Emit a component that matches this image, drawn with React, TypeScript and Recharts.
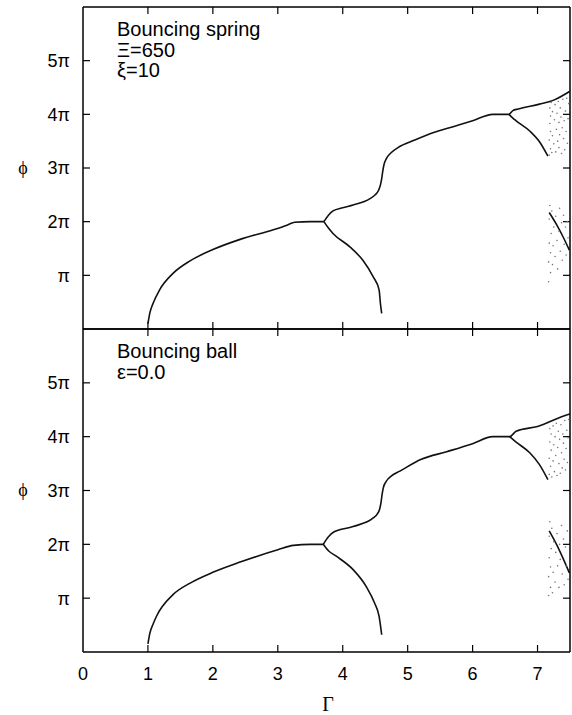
import { ComposedChart, Line, ReferenceLine, Scatter, XAxis, YAxis } from 'recharts';

const xTicks = [0, 1, 2, 3, 4, 5, 6, 7];
const yTicks = [1, 2, 3, 4, 5];
const yTickLabels: Record<number, string> = { 1: 'π', 2: '2π', 3: '3π', 4: '4π', 5: '5π' };
const xMax = 7.5;
const yMax = 6;

// Bouncing spring, [Γ, ϕ/π]
const springMain = [[1.0, 0.1], [1.03, 0.3], [1.08, 0.48], [1.18, 0.73], [1.39, 1.04], [1.65, 1.27], [2.0, 1.48], [2.42, 1.67], [2.93, 1.85], [3.15, 1.94], [3.26, 1.99], [3.5, 2.0], [3.71, 2.0]];
const springUpper = [[3.71, 2.0], [3.78, 2.12], [3.85, 2.2], [4.0, 2.26], [4.16, 2.31], [4.42, 2.43], [4.5, 2.5], [4.55, 2.58], [4.58, 2.68], [4.6, 2.8], [4.615, 2.93], [4.635, 3.06], [4.67, 3.17], [4.74, 3.28], [4.85, 3.38], [5.11, 3.52], [5.4, 3.66], [5.7, 3.77], [6.0, 3.88], [6.31, 4.0], [6.56, 4.0], [6.62, 4.07], [6.7, 4.1], [7.03, 4.19], [7.24, 4.26], [7.5, 4.43]];
const springLower = [[3.71, 2.0], [3.78, 1.88], [3.85, 1.78], [4.11, 1.53], [4.31, 1.28], [4.47, 0.97], [4.56, 0.73], [4.58, 0.48], [4.6, 0.29]];
const springLower4 = [[6.56, 4.0], [6.62, 3.93], [6.67, 3.88], [6.88, 3.69], [7.03, 3.49], [7.16, 3.22]];
const springChaosLine = [[7.18, 2.17], [7.3, 1.93], [7.4, 1.7], [7.49, 1.47]];
const springChaos = [
  [7.18, 3.24], [7.18, 3.52], [7.19, 3.83], [7.19, 4.12], [7.2, 3.36], [7.2, 3.68], [7.2, 3.97], [7.21, 4.22], [7.22, 3.29], [7.23, 3.6],
  [7.23, 4.05], [7.25, 3.45], [7.26, 3.9], [7.27, 4.18], [7.28, 3.3], [7.29, 3.72], [7.3, 4.02], [7.31, 3.5], [7.32, 4.24], [7.33, 3.85],
  [7.33, 3.38], [7.34, 3.62], [7.35, 4.12], [7.36, 3.95], [7.37, 3.27], [7.38, 3.75], [7.39, 4.28], [7.4, 3.55], [7.41, 3.88], [7.42, 3.34],
  [7.43, 4.06], [7.44, 3.68], [7.45, 4.3], [7.46, 3.46], [7.47, 3.92], [7.48, 4.2],
  [7.17, 0.88], [7.17, 1.25], [7.18, 1.6], [7.18, 2.05], [7.19, 2.3], [7.2, 1.05], [7.2, 1.42], [7.21, 1.78], [7.22, 2.2], [7.23, 1.2],
  [7.24, 1.55], [7.25, 1.9], [7.27, 1.35], [7.28, 2.1], [7.3, 1.65], [7.31, 1.12], [7.33, 1.82], [7.34, 2.25], [7.35, 1.45], [7.37, 1.98],
  [7.38, 1.28], [7.4, 2.12], [7.41, 1.58], [7.43, 1.9], [7.44, 1.38], [7.46, 2.0], [7.47, 1.7],
];

// Bouncing ball, [Γ, ϕ/π]
const ballMain = [[1.0, 0.15], [1.03, 0.35], [1.08, 0.52], [1.13, 0.66], [1.39, 1.07], [1.65, 1.28], [2.0, 1.48], [2.42, 1.67], [3.0, 1.9], [3.24, 1.98], [3.5, 2.0], [3.7, 2.0]];
const ballUpper = [[3.7, 2.0], [3.78, 2.14], [3.85, 2.22], [4.16, 2.33], [4.47, 2.49], [4.53, 2.56], [4.57, 2.66], [4.59, 2.78], [4.605, 2.92], [4.625, 3.05], [4.67, 3.17], [4.75, 3.27], [4.88, 3.36], [5.21, 3.58], [5.6, 3.72], [6.0, 3.87], [6.31, 4.0], [6.57, 4.0], [6.67, 4.1], [7.0, 4.19], [7.47, 4.41], [7.5, 4.42]];
const ballLower = [[3.7, 2.0], [3.78, 1.88], [3.9, 1.78], [4.16, 1.53], [4.36, 1.22], [4.49, 0.91], [4.56, 0.66], [4.6, 0.32]];
const ballLower4 = [[6.57, 4.0], [6.67, 3.9], [6.88, 3.7], [7.03, 3.48], [7.16, 3.2]];
const ballChaosLine = [[7.18, 2.25], [7.3, 1.98], [7.4, 1.72], [7.49, 1.47]];
const ballChaos = [
  [7.18, 3.3], [7.18, 3.6], [7.19, 3.9], [7.19, 4.15], [7.2, 3.45], [7.21, 3.75], [7.21, 4.05], [7.22, 3.25], [7.24, 3.55], [7.24, 4.2],
  [7.25, 3.85], [7.26, 3.35], [7.27, 4.0], [7.28, 3.65], [7.29, 4.25], [7.3, 3.28], [7.31, 3.8], [7.32, 4.1], [7.33, 3.5], [7.34, 3.95],
  [7.35, 3.32], [7.36, 4.22], [7.37, 3.7], [7.38, 3.42], [7.39, 4.05], [7.4, 3.88], [7.41, 3.58], [7.42, 4.3], [7.43, 3.38], [7.44, 3.78],
  [7.45, 4.12], [7.46, 3.52], [7.47, 3.98], [7.48, 4.32],
  [7.17, 1.05], [7.17, 1.4], [7.18, 1.75], [7.18, 2.15], [7.19, 2.42], [7.2, 1.2], [7.2, 1.58], [7.21, 1.92], [7.22, 2.3], [7.23, 1.1],
  [7.24, 1.48], [7.25, 2.05], [7.27, 1.3], [7.28, 1.85], [7.3, 2.2], [7.31, 1.6], [7.33, 1.2], [7.34, 2.0], [7.35, 1.72], [7.37, 2.35],
  [7.38, 1.45], [7.4, 2.1], [7.41, 1.25], [7.43, 1.95], [7.44, 1.6], [7.46, 2.25], [7.47, 1.35],
];

const toPts = (rows: number[][]) => rows.map(([g, phi]) => ({ g, phi }));

const sansFont = '"Liberation Sans", Arial, Helvetica, sans-serif';
const serifFont = '"Liberation Serif", "DejaVu Serif", serif';

// inward tick length, in data units (about 7px)
const xTickLen = 0.108;
const yTickLen = 0.13;

interface PanelProps {
  branches: number[][][];
  chaos: number[][];
  showXLabels: boolean;
  height: number;
}

const Panel = ({ branches, chaos, showXLabels, height }: PanelProps) => (
  <ComposedChart width={572} height={height} margin={{ top: 7, right: 2, bottom: showXLabels ? 0 : 1, left: 8 }}>
    {showXLabels ? (
      <XAxis
        xAxisId="b"
        dataKey="g"
        type="number"
        domain={[0, xMax]}
        ticks={xTicks}
        height={63}
        tick={{ fill: '#000', fontSize: 18, fontFamily: sansFont }}
        tickLine={false}
        tickMargin={9}
        stroke="#000"
        strokeWidth={1.5}
        allowDataOverflow
      />
    ) : (
      <XAxis
        xAxisId="b"
        dataKey="g"
        type="number"
        domain={[0, xMax]}
        ticks={xTicks}
        height={10}
        mirror
        tick={false}
        tickLine={false}
        stroke="#000"
        strokeWidth={1.5}
        allowDataOverflow
      />
    )}
    <XAxis
      xAxisId="t"
      type="number"
      domain={[0, xMax]}
      ticks={xTicks}
      orientation="top"
      height={10}
      mirror
      tick={false}
      tickLine={false}
      stroke="#000"
      strokeWidth={1.5}
      allowDataOverflow
    />
    <YAxis
      yAxisId="l"
      dataKey="phi"
      type="number"
      domain={[0, yMax]}
      ticks={yTicks}
      tickFormatter={(v: number) => yTickLabels[v] ?? ''}
      width={75}
      tick={{ fill: '#000', fontSize: 18, fontFamily: sansFont }}
      tickLine={false}
      tickMargin={7}
      stroke="#000"
      strokeWidth={1.5}
      allowDataOverflow
    />
    <YAxis
      yAxisId="r"
      type="number"
      orientation="right"
      domain={[0, yMax]}
      ticks={yTicks}
      width={10}
      mirror
      tick={false}
      tickLine={false}
      stroke="#000"
      strokeWidth={1.5}
      allowDataOverflow
    />
    {xTicks.filter((t) => t > 0).map((t) => (
      <ReferenceLine key={`xb${t}`} xAxisId="b" yAxisId="l" segment={[{ x: t, y: 0 }, { x: t, y: yTickLen }]} stroke="#000" strokeWidth={1.2} />
    ))}
    {xTicks.filter((t) => t > 0).map((t) => (
      <ReferenceLine key={`xt${t}`} xAxisId="b" yAxisId="l" segment={[{ x: t, y: yMax }, { x: t, y: yMax - yTickLen }]} stroke="#000" strokeWidth={1.2} />
    ))}
    {yTicks.map((t) => (
      <ReferenceLine key={`yl${t}`} xAxisId="b" yAxisId="l" segment={[{ x: 0, y: t }, { x: xTickLen, y: t }]} stroke="#000" strokeWidth={1.2} />
    ))}
    {yTicks.map((t) => (
      <ReferenceLine key={`yr${t}`} xAxisId="b" yAxisId="l" segment={[{ x: xMax - xTickLen, y: t }, { x: xMax, y: t }]} stroke="#000" strokeWidth={1.2} />
    ))}
    {branches.map((b, i) => (
      <Line
        key={i}
        data={toPts(b)}
        xAxisId="b"
        yAxisId="l"
        dataKey="phi"
        type="monotone"
        stroke="#111"
        strokeWidth={1.6}
        dot={false}
        isAnimationActive={false}
      />
    ))}
    <Scatter
      data={toPts(chaos)}
      xAxisId="b"
      yAxisId="l"
      dataKey="phi"
      isAnimationActive={false}
      shape={(p: any) => <circle cx={p.cx} cy={p.cy} r={0.8} fill="#777" />}
    />
  </ComposedChart>
);

export default function App() {
  return (
    <div style={{ position: 'absolute', left: 0, top: 0, width: 572, height: 715 }}>
      <svg width={572} height={715} style={{ position: 'absolute', left: 0, top: 0 }}>
        <g fontFamily={sansFont} fontSize={20} fill="#000">
          <text x={117} y={36}>Bouncing spring</text>
          <text x={117} y={57}>Ξ=650</text>
          <text x={117} y={77}>ξ=10</text>
          <text x={117} y={358}>Bouncing ball</text>
          <text x={117} y={379}>ε=0.0</text>
        </g>
        <g fontFamily={serifFont} fill="#000" textAnchor="middle">
          <text x={23} y={174} fontSize={18}>ϕ</text>
          <text x={23} y={496} fontSize={18}>ϕ</text>
          <text x={328} y={711} fontSize={20}>Γ</text>
        </g>
      </svg>
      <div style={{ position: 'absolute', left: 0, top: 0 }}>
        <Panel
          branches={[springMain, springUpper, springLower, springLower4, springChaosLine]}
          chaos={springChaos}
          showXLabels={false}
          height={330}
        />
      </div>
      <div style={{ position: 'absolute', left: 0, top: 322 }}>
        <Panel
          branches={[ballMain, ballUpper, ballLower, ballLower4, ballChaosLine]}
          chaos={ballChaos}
          showXLabels
          height={393}
        />
      </div>
    </div>
  );
}
